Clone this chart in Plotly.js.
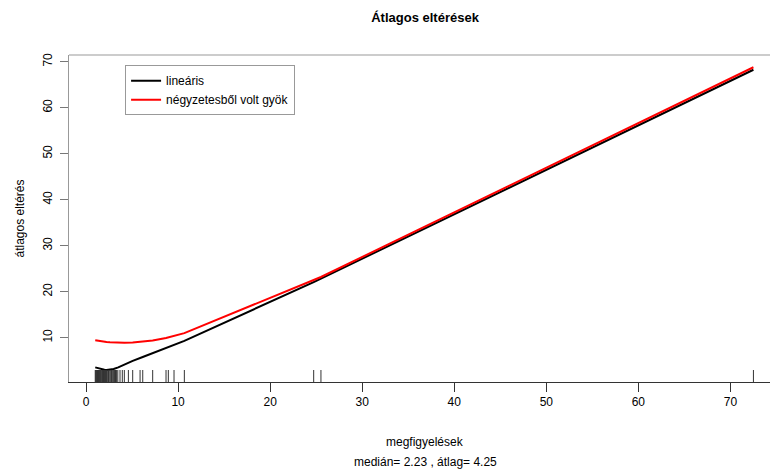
<!DOCTYPE html>
<html>
<head>
<meta charset="utf-8">
<script src="https://cdn.plot.ly/plotly-3.0.1.min.js"></script>
<style>html,body{margin:0;padding:0;background:#fff;}#chart{width:770px;height:472px;}</style>
</head>
<body>
<div id="chart"></div>
<script>
// Observations (rug marks along the x axis)
const observations = [
  1.0, 1.05, 1.1, 1.15, 1.2, 1.25, 1.3, 1.35, 1.4, 1.45, 1.5, 1.55, 1.6, 1.7, 1.75,
  1.8, 1.85, 1.9, 2.0, 2.05, 2.1, 2.15, 2.2, 2.25, 2.3, 2.4, 2.45, 2.5, 2.6, 2.7,
  2.75, 2.8, 2.9, 3.0, 3.1, 3.2, 3.3, 3.45,
  3.69, 3.94, 4.16, 4.6, 5.07, 5.87, 6.16, 7.24, 8.69, 8.94, 9.56, 10.68,
  24.73, 25.52, 72.5
];
// Points where the two deviation curves were evaluated
const evalPoints = [1.0, 1.5, 2.0, 2.23, 2.6, 3.0, 3.5, 4.16, 5.07, 6.16, 7.24, 8.69, 9.56, 10.68, 24.73, 25.52, 72.5];
// Mean absolute deviation ("lineáris")
const linearDev = [3.55, 3.2, 3.02, 2.98, 3.02, 3.2, 3.55, 4.2, 4.95, 5.8, 6.65, 7.8, 8.5, 9.3, 22.1, 22.85, 68.25];
// Root mean square deviation ("négyzetesből volt gyök")
const rmsDev = [9.45, 9.25, 9.1, 9.05, 9.0, 8.95, 8.92, 8.9, 8.95, 9.1, 9.4, 9.95, 10.4, 11.0, 22.55, 23.2, 68.8];

const seriesNames = ['lineáris', 'négyzetesből volt gyök'];
const xTicks = [0, 10, 20, 30, 40, 50, 60, 70];
const yTicks = [10, 20, 30, 40, 50, 60, 70];
const xTitleLines = ['megfigyelések', 'medián= 2.23 , átlag= 4.25'];

const FONT = 'Liberation Sans, Arial, sans-serif';
const plotH = 472 - 55 - 90;
const rugY = observations.map(() => 5 / plotH);

const traces = [
  {x: evalPoints, y: linearDev, name: seriesNames[0], type: 'scatter', mode: 'lines',
   line: {color: '#000000', width: 2}, hoverinfo: 'skip'},
  {x: evalPoints, y: rmsDev, name: seriesNames[1], type: 'scatter', mode: 'lines',
   line: {color: '#ff0000', width: 2}, hoverinfo: 'skip'},
  {x: observations, y: rugY, yaxis: 'y2', type: 'scatter', mode: 'markers', showlegend: false,
   marker: {symbol: 'line-ns-open', size: 10, color: '#333', line: {width: 1, color: '#333'}}, hoverinfo: 'skip'}
];

const layout = {
  width: 770, height: 472,
  margin: {l: 69, r: 0, t: 55, b: 90, pad: 0},
  paper_bgcolor: '#fff', plot_bgcolor: '#fff',
  font: {family: FONT, size: 12, color: '#000'},
  title: {text: 'Átlagos eltérések', font: {family: FONT, size: 13, color: '#000', weight: 'bold'},
          x: 0.552, xanchor: 'center', y: 0.962, yanchor: 'middle'},
  xaxis: {
    range: [-1.85, 74.3], tickvals: xTicks, ticktext: xTicks.map(String),
    ticks: 'outside', ticklen: 9, tickwidth: 1, tickcolor: '#333',
    showgrid: false, zeroline: false, showline: true, linecolor: '#333', linewidth: 1,
    tickfont: {size: 12, color: '#000'}
  },
  yaxis: {
    range: [0.37, 71.46], tickvals: yTicks, ticktext: yTicks.map(String),
    ticks: 'outside', ticklen: 8, tickwidth: 1, tickcolor: '#777', tickangle: -90,
    showgrid: false, zeroline: false, showline: true, linecolor: '#999', linewidth: 1,
    tickfont: {size: 12, color: '#000'}, ticklabelstandoff: 3,
    title: {text: 'átlagos eltérés', font: {size: 12, color: '#000'}, standoff: 14}
  },
  yaxis2: {overlaying: 'y', range: [0, 1], visible: false, fixedrange: true},
  showlegend: true,
  legend: {x: 0.08, y: 0.969, xanchor: 'left', yanchor: 'top', bgcolor: '#fff',
           bordercolor: '#999', borderwidth: 1, font: {size: 12, color: '#000'},
           itemwidth: 30, tracegroupgap: 0},
  annotations: [
    {text: xTitleLines[0], xref: 'paper', yref: 'paper', x: 0.508, y: 0, xanchor: 'center', yanchor: 'middle',
     yshift: -60, showarrow: false, font: {size: 12, color: '#000'}},
    {text: xTitleLines[1], xref: 'paper', yref: 'paper', x: 0.508, y: 0, xanchor: 'center', yanchor: 'middle',
     yshift: -80, showarrow: false, font: {size: 12, color: '#000'}}
  ],
  shapes: [
    {type: 'line', xref: 'paper', yref: 'paper', x0: 0, x1: 1, y0: 1, y1: 1,
     line: {color: '#999', width: 1}}
  ]
};

Plotly.newPlot('chart', traces, layout, {staticPlot: true, displayModeBar: false});
</script>
</body>
</html>
